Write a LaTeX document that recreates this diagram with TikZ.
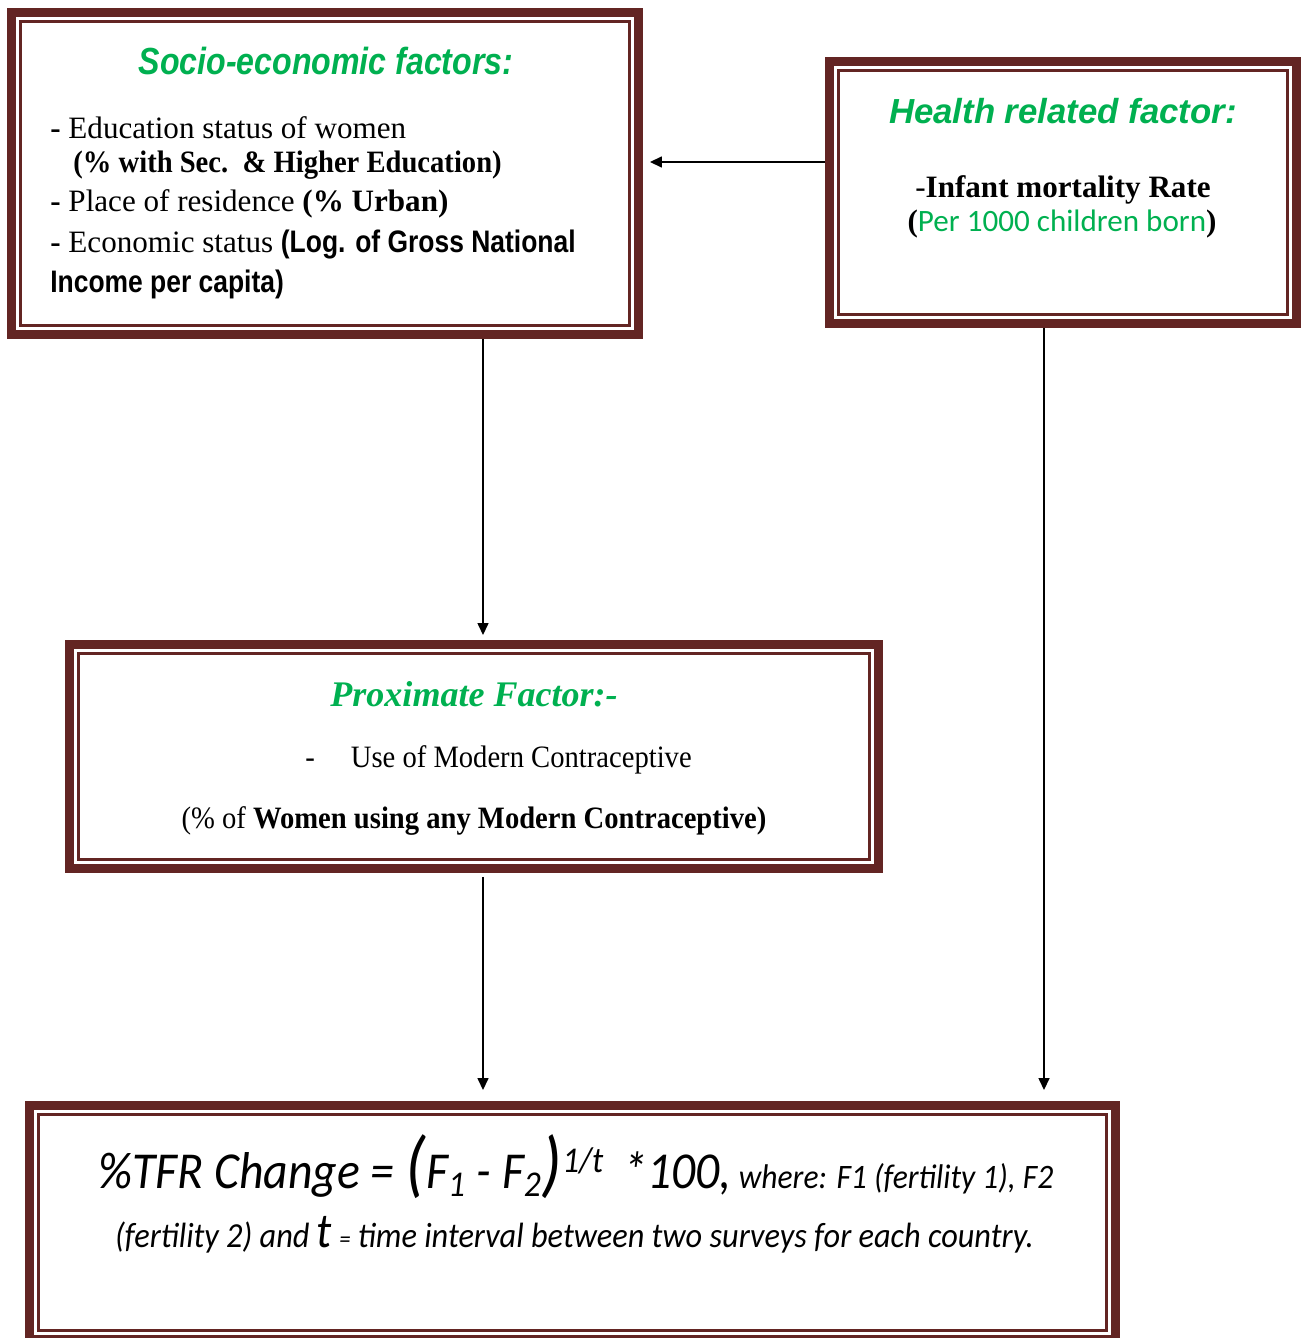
\documentclass[tikz,border=0pt]{standalone}
\usepackage{fontspec}
\setmainfont{Liberation Serif}
\newfontfamily\narrowserif[FakeStretch=0.92]{Liberation Serif}
\newfontfamily\headsans{Liberation Sans}
\newfontfamily\narrowsans[FakeStretch=0.85]{Liberation Sans}
\newfontfamily\calib{Carlito}
\newfontfamily\narrowcalib[FakeStretch=0.92]{Carlito}
\usepackage{xcolor}
\usetikzlibrary{shapes,calc,positioning,arrows.meta}
\definecolor{framered}{HTML}{632523}
\definecolor{leafgreen}{HTML}{00B050}

\begin{document}
\begin{tikzpicture}[x=0.02cm,y=-0.02cm]
  \tikzset{ frame/.style={draw=framered,line width=0.18cm,inner sep=0pt,
      path picture={\draw[framered,line width=0.05cm]
        ($(path picture bounding box.north west)+(0.18cm,-0.18cm)$) rectangle
        ($(path picture bounding box.south east)+(-0.18cm,0.18cm)$);}},
    arr/.style={-{Triangle[length=0.24cm,width=0.22cm]},line width=0.03cm},
    body/.style={inner sep=0pt,anchor=base west,font=\fontsize{17.7}{20}\selectfont},
    mid/.style={body,anchor=base},
  }
  \useasboundingbox (0,0) rectangle (1307,1338);

  % the four framed boxes
  \node[frame,minimum width=12.54cm,minimum height=6.44cm] (socio) at (325,173.5) {};
  \node[frame,minimum width=9.34cm,minimum height=5.24cm] (health) at (1063,192.5) {};
  \node[frame,minimum width=16.18cm,minimum height=4.48cm] (prox) at (474,756.5) {};
  \node[frame,minimum width=21.72cm,minimum height=4.68cm] (tfr) at (572.5,1222.5) {};

  % socio-economic box
  \node[mid,text=leafgreen,font=\narrowsans\bfseries\itshape\fontsize{21.5}{24}\selectfont] (socio-title) at (326,75) {Socio-economic factors:};
  \node[body] (socio-edu) at (50,139) {\textbf{-} Education status of women};
  \node[body,font=\narrowserif\fontsize{17.7}{20}\selectfont] (socio-sec) at (73,173) {\textbf{(\% with Sec.\ \ \& Higher Education)}};
  \node[body] (socio-res) at (50,212) {\textbf{-} Place of residence \textbf{(\% Urban)}};
  \node[body] (socio-eco) at (50,253) {\textbf{-} Economic status {\narrowsans\bfseries (Log. of Gross National}};
  \node[body] (socio-inc) at (50,292) {\narrowsans\bfseries Income per capita)};

  % health box
  \node[mid,text=leafgreen,font=\headsans\bfseries\itshape\fontsize{19.8}{22}\selectfont] (health-title) at (1063,124) {Health related factor:};
  \node[mid] (health-imr) at (1063,197) {-\textbf{Infant mortality Rate}};
  \node[mid] (health-per) at (1062,232) {\textbf{(}{\calib\color{leafgreen}Per 1000 children born}\textbf{)}};

  % proximate box
  \node[mid,text=leafgreen,font=\bfseries\itshape\fontsize{20.5}{23}\selectfont] (prox-title) at (474,706) {Proximate Factor:-};
  \node[body,font=\narrowserif\fontsize{17.7}{20}\selectfont] (prox-use) at (305,767) {-\hspace{0.72cm}Use of Modern Contraceptive};
  \node[mid,font=\narrowserif\fontsize{17.7}{20}\selectfont] (prox-pct) at (474,828) {(\% of \textbf{Women using any Modern Contraceptive)}};

  % formula box
  \node[mid,font=\narrowcalib\itshape\fontsize{29.5}{31}\selectfont] (tfr-eq) at (576,1188)
    {\%TFR Change = {\fontsize{42}{42}\selectfont(}F\textsubscript{1} - F\textsubscript{2}{\fontsize{42}{42}\selectfont)}\textsuperscript{1/t}\, *100,{\fontsize{19.5}{21}\selectfont{} where: F1 (fertility 1), F2}};
  \node[mid,font=\narrowcalib\itshape\fontsize{20}{22}\selectfont] (tfr-def) at (574.5,1247)
    {(fertility 2) and {\fontsize{28}{30}\selectfont t} {\fontsize{14}{16}\selectfont=} time interval between two surveys for each country.};

  % the connections between the boxes
  \draw[arr,shorten >=0.14cm] (health.west |- 0,162) -- (socio.east |- 0,162);
  \draw[arr,shorten >=0.1cm] (socio.south -| 483,0) -- (prox.north -| 483,0);
  \draw[arr,shorten <=0.08cm,shorten >=0.22cm] (prox.south -| 483,0) -- (tfr.north -| 483,0);
  \draw[arr,shorten >=0.22cm] (health.south -| 1044,0) -- (tfr.north -| 1044,0);
\end{tikzpicture}
\end{document}
